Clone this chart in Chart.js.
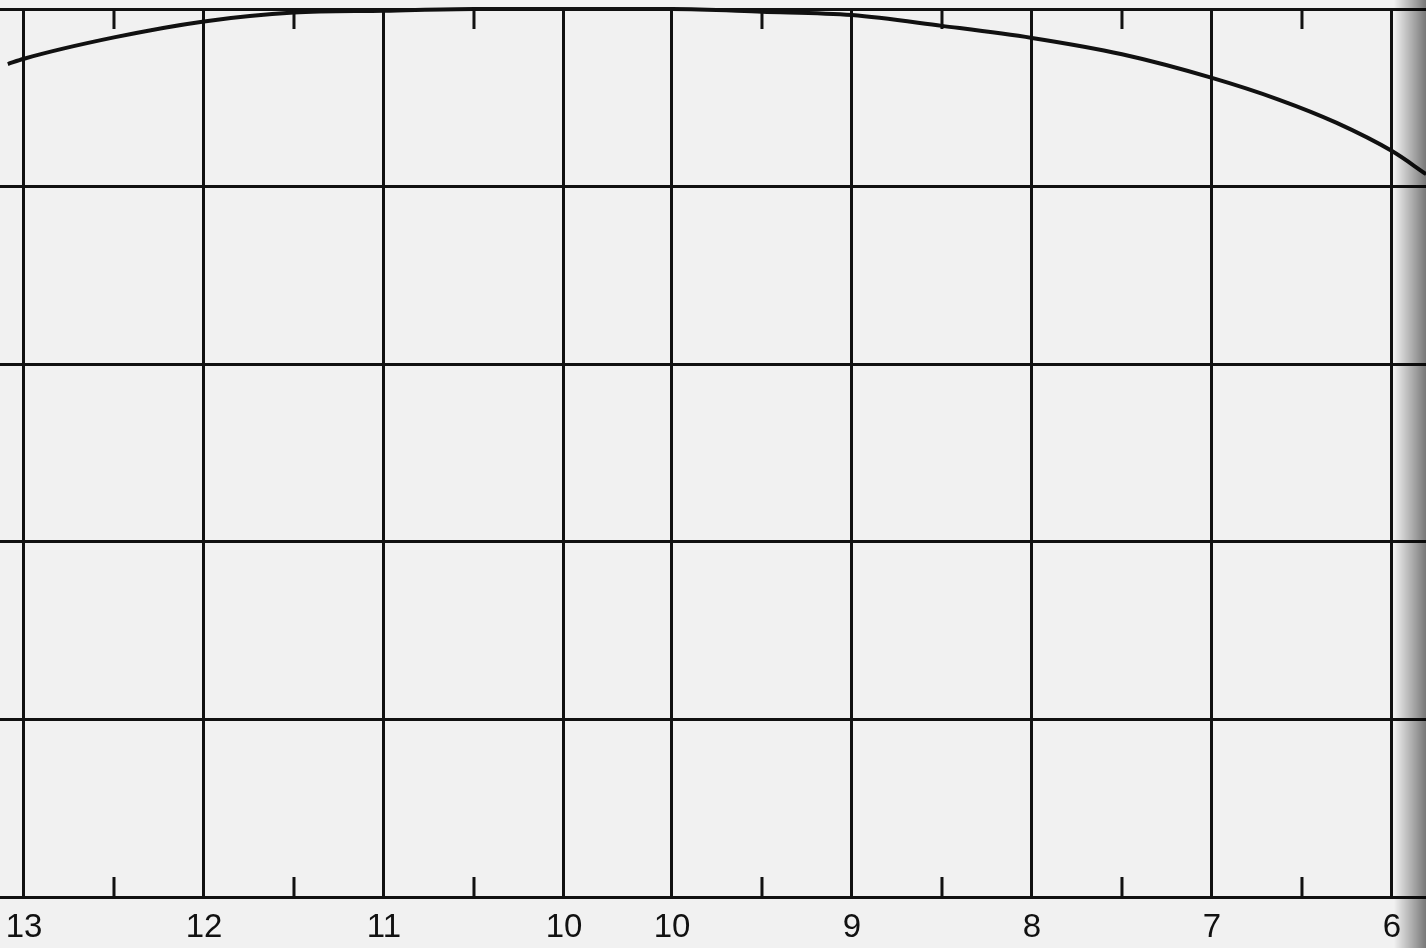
<!DOCTYPE html>
<html>
<head>
<meta charset="utf-8">
<script src="https://cdn.jsdelivr.net/npm/chart.js@4"></script>
<style>
  html, body { margin: 0; padding: 0; background: #f1f1f1; }
  #wrap { width: 1426px; height: 948px; }
</style>
</head>
<body>
<div id="wrap"><canvas id="chart"></canvas></div>
<script>
// x positions are in grid units counted from the first vertical line (1 unit = 1 major division)
// the axis is broken between the two "10" lines
const tickPos = [0, 1, 2, 3, 3.6, 4.6, 5.6, 6.6, 7.6];
const tickLabels = ['13', '12', '11', '10', '10', '9', '8', '7', '6'];
const minorPos = [0.5, 1.5, 2.5, 4.1, 5.1, 6.1, 7.1];

// curve, y in grid divisions above the bottom line
const curveX = [-0.09, 0, 0.5, 1.0, 1.5, 2.0, 2.5, 3.0, 3.6, 4.1, 4.6, 5.1, 5.6, 6.1, 6.6, 6.97, 7.29, 7.6, 7.79];
const curveY = [4.69, 4.72, 4.84, 4.93, 4.98, 4.99, 5.0, 5.0, 5.0, 4.985, 4.966, 4.905, 4.837, 4.745, 4.612, 4.49, 4.36, 4.2, 4.07];

// short half-division marks along top and bottom lines
const minorTicks = {
  id: 'minorTicks',
  afterDraw(chart) {
    const { ctx, chartArea, scales } = chart;
    ctx.save();
    ctx.strokeStyle = '#111';
    ctx.lineWidth = 3;
    minorPos.forEach(p => {
      const x = scales.x.getPixelForValue(p);
      ctx.beginPath();
      ctx.moveTo(x, chartArea.top);
      ctx.lineTo(x, chartArea.top + 20);
      ctx.moveTo(x, chartArea.bottom);
      ctx.lineTo(x, chartArea.bottom - 20);
      ctx.stroke();
    });
    ctx.restore();
  }
};

// darkened scan edge on the right
const edgeShade = {
  id: 'edgeShade',
  afterDraw(chart) {
    const { ctx, width, height } = chart;
    const g = ctx.createLinearGradient(width - 32, 0, width, 0);
    g.addColorStop(0, 'rgba(0,0,0,0)');
    g.addColorStop(1, 'rgba(0,0,0,0.5)');
    ctx.save();
    ctx.fillStyle = g;
    ctx.fillRect(width - 32, 0, 32, height);
    ctx.restore();
  }
};

new Chart(document.getElementById('chart'), {
  type: 'line',
  data: {
    datasets: [{
      data: curveX.map((x, i) => ({ x: x, y: curveY[i] })),
      borderColor: '#111',
      borderWidth: 4,
      pointRadius: 0,
      cubicInterpolationMode: 'monotone',
      clip: false,
      fill: false
    }]
  },
  options: {
    responsive: true,
    maintainAspectRatio: false,
    animation: false,
    layout: { padding: { top: 9, left: 0, right: 0, bottom: 0 } },
    plugins: { legend: { display: false }, tooltip: { enabled: false } },
    scales: {
      x: {
        type: 'linear',
        min: -0.1333,
        max: 7.789,
        afterBuildTicks: s => { s.ticks = tickPos.map(v => ({ value: v })); },
        ticks: {
          callback: (v, i) => tickLabels[i],
          color: '#111',
          font: { family: 'Liberation Sans', size: 33, lineHeight: 1.88 },
          padding: 0,
          maxRotation: 0,
          autoSkip: false
        },
        grid: { color: '#111', lineWidth: 3, drawTicks: false },
        border: { display: false },
        afterFit: s => { s.height = 51; }
      },
      y: {
        min: 0,
        max: 5,
        ticks: { display: false, stepSize: 1 },
        grid: { color: '#111', lineWidth: 3, drawTicks: false },
        border: { display: false },
        afterFit: s => { s.width = 0; }
      }
    }
  },
  plugins: [minorTicks, edgeShade]
});
</script>
</body>
</html>
